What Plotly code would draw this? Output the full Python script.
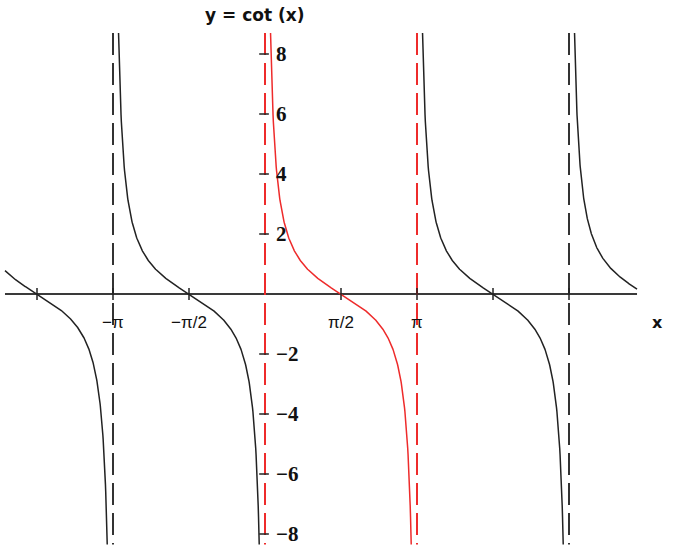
import numpy as np
import plotly.graph_objects as go

PI = np.pi
# chart content
title_text = "y = cot (x)"
asymptotes = [-PI, 0.0, PI, 2 * PI]
asym_colors = ["#333333", "#ee2b2b", "#ee2b2b", "#333333"]
branch_edges = [-5.374, -PI, 0.0, PI, 2 * PI, 7.689]
branch_colors = ["#222222", "#222222", "#ee2b2b", "#222222", "#222222"]
x_tick_vals = [-3 * PI / 2, -PI, -PI / 2, PI / 2, PI, 3 * PI / 2, 2 * PI]
x_label_vals = [-PI, -PI / 2, PI / 2, PI]
x_label_text = ["−π", "−π/2", "π/2", "π"]
y_tick_vals = [-8, -6, -4, -2, 2, 4, 6, 8]
y_tick_text = ["−8", "−6", "−4", "−2", "2", "4", "6", "8"]
y_top, y_bot = 8.7, -8.35

fig = go.Figure()

# x axis line
fig.add_trace(go.Scatter(x=[branch_edges[0], branch_edges[-1]], y=[0, 0], mode="lines",
                         line=dict(color="#3a3a3a", width=2), hoverinfo="skip", showlegend=False))

# asymptotes
for a, c in zip(asymptotes, asym_colors):
    fig.add_trace(go.Scatter(x=[a, a], y=[y_top, y_bot], mode="lines",
                             line=dict(color=c, width=2, dash="22px,8px"),
                             hoverinfo="skip", showlegend=False))

# branches of cot(x)
def is_mult_pi(v):
    return abs(v / PI - round(v / PI)) < 1e-9

for i, c in enumerate(branch_colors):
    lo, hi = branch_edges[i], branch_edges[i + 1]
    lo2 = lo + np.arctan(1 / y_top) if is_mult_pi(lo) else lo
    hi2 = hi - np.arctan(1 / -y_bot) if is_mult_pi(hi) else hi
    xs = np.linspace(lo2, hi2, 400)
    ys = np.cos(xs) / np.sin(xs)
    fig.add_trace(go.Scatter(x=xs, y=ys, mode="lines", line=dict(color=c, width=1.5),
                             hoverinfo="skip", showlegend=False))

shapes = []
# x ticks (short vertical)
for v in x_tick_vals:
    shapes.append(dict(type="line", xref="x", yref="y", x0=v, x1=v, y0=-0.2, y1=0.2,
                       line=dict(color="#222222", width=1.5)))
# y ticks (short horizontal)
for v in y_tick_vals:
    shapes.append(dict(type="line", xref="x", yref="y", x0=-0.12, x1=0.08, y0=v, y1=v,
                       line=dict(color="#222222", width=1.5)))

annotations = []
for v, t in zip(x_label_vals, x_label_text):
    annotations.append(dict(x=v, y=-0.95, xref="x", yref="y", text=t, showarrow=False,
                            xanchor="center", yanchor="middle",
                            font=dict(family="Liberation Sans", size=17, color="#111111")))
for v, t in zip(y_tick_vals, y_tick_text):
    annotations.append(dict(x=0.19, y=v, xref="x", yref="y", text="<b>" + t + "</b>", showarrow=False,
                            xanchor="left", yanchor="middle",
                            font=dict(family="Liberation Serif", size=21, color="#111111")))
annotations.append(dict(x=657 / 690, y=1 - 322 / 558, xref="paper", yref="paper", text="<b>x</b>",
                        showarrow=False, xanchor="center", yanchor="middle",
                        font=dict(family="DejaVu Sans", size=16, color="#111111")))
annotations.append(dict(x=255 / 690, y=1 - 15 / 558, xref="paper", yref="paper",
                        text="<b>" + title_text + "</b>", showarrow=False,
                        xanchor="center", yanchor="middle",
                        font=dict(family="DejaVu Sans", size=17, color="#111111")))

fig.update_layout(
    width=690, height=558,
    margin=dict(l=0, r=0, t=0, b=0),
    paper_bgcolor="white", plot_bgcolor="white",
    xaxis=dict(range=[-265 / 152 * PI, 425 / 152 * PI], visible=False),
    yaxis=dict(range=[-264 / 30, 294 / 30], visible=False),
    shapes=shapes,
    annotations=annotations,
)
fig.write_html("out.html", config={"displayModeBar": False},
               post_script="document.body.style.margin='0px';")
